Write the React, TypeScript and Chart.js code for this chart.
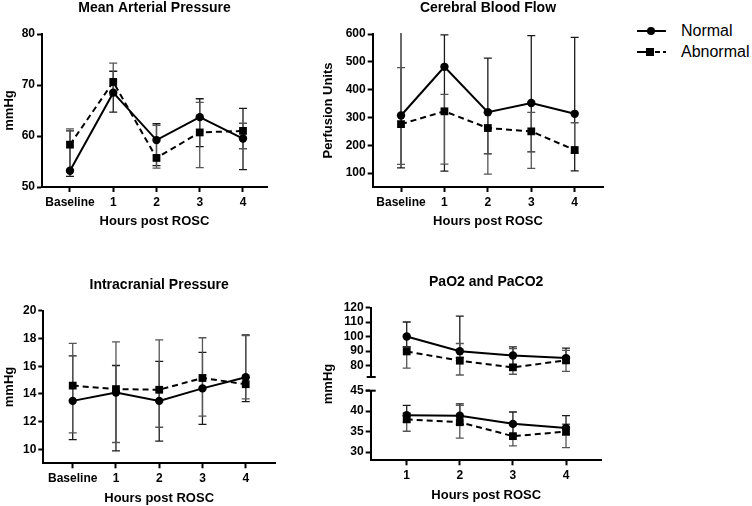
import React, { useEffect, useRef } from 'react';
import { Chart, registerables } from 'chart.js';

Chart.register(...registerables);

const FONT = '"Liberation Sans", Arial, Helvetica, sans-serif';
Chart.defaults.font.family = FONT;
Chart.defaults.color = '#000';

// ---------------- data ----------------
const seriesNames = ['Normal', 'Abnormal'];
const hourLabels = ['Baseline', '1', '2', '3', '4'];
const hourX = [0, 1, 2, 3, 4];
const gasLabels = ['1', '2', '3', '4'];
const gasX = [1, 2, 3, 4];

const mapTicks = [50, 60, 70, 80];
const mapNormal = [53.2, 68.5, 59.2, 63.7, 59.5];
const mapNormalLow = [52.1, 64.7, 54.2, 57.9, 53.4];
const mapNormalHigh = [61.0, 72.7, 62.4, 67.3, 65.4];
const mapAbnormal = [58.3, 70.6, 55.7, 60.7, 61.0];
const mapAbnormalLow = [53.0, 68.0, 53.7, 53.8, 57.5];
const mapAbnormalHigh = [61.4, 74.3, 62.1, 66.6, 62.5];

const cbfTicks = [100, 200, 300, 400, 500, 600];
const cbfNormal = [307, 482, 319, 352, 313];
const cbfNormalLow = [119, 107, 169, 176, 108];
const cbfNormalHigh = [640, 597, 513, 594, 588];
const cbfAbnormal = [276, 322, 262, 250, 183];
const cbfAbnormalLow = [131, 132, 96, 117, 172];
const cbfAbnormalHigh = [479, 383, 318, 318, 281];

const icpTicks = [10, 12, 14, 16, 18, 20];
const icpNormal = [13.5, 14.1, 13.5, 14.4, 15.2];
const icpNormalLow = [10.7, 9.9, 10.6, 11.8, 13.45];
const icpNormalHigh = [16.75, 16.05, 16.35, 17.0, 18.25];
const icpAbnormal = [14.6, 14.35, 14.3, 15.15, 14.7];
const icpAbnormalLow = [11.2, 10.5, 11.6, 12.4, 13.65];
const icpAbnormalHigh = [17.65, 17.75, 17.9, 18.05, 18.2];

const pao2Ticks = [80, 90, 100, 110, 120];
const pao2Normal = [100, 89.9, 86.9, 85.1];
const pao2NormalLow = [93.1, 85.5, 80.5, 82.0];
const pao2NormalHigh = [110.1, 114.2, 92.9, 92.0];
const pao2Abnormal = [89.7, 83.3, 78.7, 83.5];
const pao2AbnormalLow = [78.2, 73.4, 73.9, 75.9];
const pao2AbnormalHigh = [92.5, 95.2, 91.7, 90.5];

const paco2Ticks = [30, 35, 40, 45];
const paco2Normal = [39.0, 38.9, 36.9, 35.9];
const paco2NormalLow = [37.3, 36.8, 34.3, 34.2];
const paco2NormalHigh = [41.4, 41.8, 39.8, 38.9];
const paco2Abnormal = [38.0, 37.3, 33.9, 35.0];
const paco2AbnormalLow = [35.1, 33.4, 31.5, 31.1];
const paco2AbnormalHigh = [39.5, 41.4, 36.5, 36.8];

// ---------------- plugins ----------------
const errorBarPlugin = {
  id: 'errorBars',
  beforeDatasetsDraw(chart: any) {
    const ctx = chart.ctx;
    const xs = chart.scales.x;
    const ys = chart.scales.y;
    const a = chart.chartArea;
    ctx.save();
    ctx.beginPath();
    ctx.rect(a.left - 30, a.top - 1, a.right - a.left + 60, a.bottom - a.top + 2);
    ctx.clip();
    chart.data.datasets.forEach((ds: any) => {
      ctx.strokeStyle = ds.errColor;
      ctx.lineWidth = 1.3;
      ds.data.forEach((pt: any, j: number) => {
        const x = xs.getPixelForValue(pt.x);
        const y1 = ys.getPixelForValue(ds.errLow[j]);
        const y2 = ys.getPixelForValue(ds.errHigh[j]);
        const c = 4;
        ctx.beginPath();
        ctx.moveTo(x, y1);
        ctx.lineTo(x, y2);
        ctx.moveTo(x - c, y1);
        ctx.lineTo(x + c, y1);
        ctx.moveTo(x - c, y2);
        ctx.lineTo(x + c, y2);
        ctx.stroke();
      });
    });
    ctx.restore();
  },
};

const stubPlugin = {
  id: 'breakStub',
  afterDraw(chart: any, _args: any, opts: any) {
    if (!opts || !opts.edge) return;
    const a = chart.chartArea;
    const ctx = chart.ctx;
    const y = opts.edge === 'bottom' ? a.bottom : a.top;
    ctx.save();
    ctx.strokeStyle = '#000';
    ctx.lineWidth = 2;
    ctx.beginPath();
    ctx.moveTo(a.left - (opts.edge === 'bottom' ? 4 : 5), y);
    ctx.lineTo(a.left + 5, y);
    ctx.stroke();
    ctx.restore();
  },
};

// ---------------- panels ----------------
type Box = { L: number; T: number; W: number; H: number };
type Area = { l: number; t: number; r: number; b: number };

interface Panel {
  key: string;
  labels: string[];
  xs: number[];
  xMin: number;
  xMax: number;
  yMin: number;
  yMax: number;
  yTicks: number[];
  normal: number[];
  normalLow: number[];
  normalHigh: number[];
  abnormal: number[];
  abnormalLow: number[];
  abnormalHigh: number[];
  title?: string;
  titlePad?: { top: number; bottom: number };
  yTitle?: string;
  yTitlePad?: number;
  showX: boolean;
  stub?: 'top' | 'bottom';
  box: Box;
  area: Area;
}

const panels: Panel[] = [
  {
    key: 'map',
    labels: hourLabels, xs: hourX, xMin: -0.647, xMax: 4.555,
    yMin: 50, yMax: 80, yTicks: mapTicks,
    normal: mapNormal, normalLow: mapNormalLow, normalHigh: mapNormalHigh,
    abnormal: mapAbnormal, abnormalLow: mapAbnormalLow, abnormalHigh: mapAbnormalHigh,
    title: 'Mean Arterial Pressure', titlePad: { top: 0, bottom: 17.2 },
    yTitle: 'mmHg', yTitlePad: 1.2, showX: true,
    box: { L: 0, T: 0, W: 285, H: 229 },
    area: { l: 42, t: 34, r: 267, b: 187 },
  },
  {
    key: 'cbf',
    labels: hourLabels, xs: hourX, xMin: -0.652, xMax: 4.659,
    yMin: 50, yMax: 600, yTicks: cbfTicks,
    normal: cbfNormal, normalLow: cbfNormalLow, normalHigh: cbfNormalHigh,
    abnormal: cbfAbnormal, abnormalLow: cbfAbnormalLow, abnormalHigh: cbfAbnormalHigh,
    title: 'Cerebral Blood Flow', titlePad: { top: 0, bottom: 17.2 },
    yTitle: 'Perfusion Units', yTitlePad: 2.2, showX: true,
    box: { L: 318, T: 0, W: 300, H: 229 },
    area: { l: 372.7, t: 34, r: 603.3, b: 187 },
  },
  {
    key: 'icp',
    labels: hourLabels, xs: hourX, xMin: -0.68, xMax: 4.677,
    yMin: 9, yMax: 20, yTicks: icpTicks,
    normal: icpNormal, normalLow: icpNormalLow, normalHigh: icpNormalHigh,
    abnormal: icpAbnormal, abnormalLow: icpAbnormalLow, abnormalHigh: icpAbnormalHigh,
    title: 'Intracranial Pressure', titlePad: { top: 7.1, bottom: 16.8 },
    yTitle: 'mmHg', yTitlePad: 1.2, showX: true,
    box: { L: 0, T: 270, W: 290, H: 236 },
    area: { l: 43.3, t: 310.7, r: 275, b: 463.3 },
  },
  {
    key: 'pao2',
    labels: gasLabels, xs: gasX, xMin: 0.322, xMax: 4.672,
    yMin: 72, yMax: 120, yTicks: pao2Ticks,
    normal: pao2Normal, normalLow: pao2NormalLow, normalHigh: pao2NormalHigh,
    abnormal: pao2Abnormal, abnormalLow: pao2AbnormalLow, abnormalHigh: pao2AbnormalHigh,
    title: 'PaO2 and PaCO2', titlePad: { top: 3.6, bottom: 17.3 },
    showX: false, stub: 'bottom',
    box: { L: 340, T: 270, W: 280, H: 117 },
    area: { l: 370.7, t: 307.7, r: 601.7, b: 377 },
  },
  {
    key: 'paco2',
    labels: gasLabels, xs: gasX, xMin: 0.322, xMax: 4.672,
    yMin: 28, yMax: 45, yTicks: paco2Ticks,
    normal: paco2Normal, normalLow: paco2NormalLow, normalHigh: paco2NormalHigh,
    abnormal: paco2Abnormal, abnormalLow: paco2AbnormalLow, abnormalHigh: paco2AbnormalHigh,
    showX: true, stub: 'top',
    box: { L: 340, T: 378, W: 280, H: 125 },
    area: { l: 370.7, t: 390.7, r: 601.7, b: 460.3 },
  },
];

function buildConfig(p: Panel): any {
  const { box, area } = p;
  const yWidth = area.l - box.L;
  const padRight = box.L + box.W - area.r;
  const bottomGap = box.T + box.H - area.b;
  const xHeight = p.showX ? bottomGap : 0;
  const padBottom = p.showX ? 0 : bottomGap;
  const padTop = p.title ? 0 : area.t - box.T;
  const pts = (vals: number[]) => vals.map((v, i) => ({ x: p.xs[i], y: v }));
  const tickFont = { size: 12, weight: 'bold' as const };
  const axisTitleFont = { size: 13, weight: 'bold' as const };

  return {
    type: 'line',
    data: {
      datasets: [
        {
          label: seriesNames[0],
          data: pts(p.normal),
          errLow: p.normalLow,
          errHigh: p.normalHigh,
          errColor: '#1a1a1a',
          borderColor: '#000',
          backgroundColor: '#000',
          borderWidth: 2,
          pointStyle: 'circle',
          pointRadius: 4.2,
          pointBackgroundColor: '#000',
          pointBorderColor: '#000',
          pointBorderWidth: 0,
          tension: 0,
          fill: false,
          clip: false,
        },
        {
          label: seriesNames[1],
          data: pts(p.abnormal),
          errLow: p.abnormalLow,
          errHigh: p.abnormalHigh,
          errColor: '#555',
          borderColor: '#000',
          backgroundColor: '#000',
          borderWidth: 2,
          borderDash: [6, 4],
          pointStyle: 'rect',
          pointRadius: 5.5,
          pointBackgroundColor: '#000',
          pointBorderColor: '#000',
          pointBorderWidth: 0,
          tension: 0,
          fill: false,
          clip: false,
        },
      ],
    },
    options: {
      responsive: false,
      maintainAspectRatio: false,
      animation: false,
      devicePixelRatio: 1,
      events: [],
      layout: { padding: { left: 0, top: padTop, right: padRight, bottom: padBottom } },
      plugins: {
        legend: { display: false },
        tooltip: { enabled: false },
        title: p.title
          ? {
              display: true,
              text: p.title,
              fullSize: false,
              color: '#000',
              font: { size: 14, weight: 'bold' },
              padding: p.titlePad,
            }
          : { display: false },
        breakStub: { edge: p.stub },
      },
      scales: {
        x: {
          type: 'linear',
          display: p.showX,
          min: p.xMin,
          max: p.xMax,
          afterBuildTicks: (s: any) => {
            s.ticks = p.xs.map((v) => ({ value: v }));
          },
          afterFit: (s: any) => {
            s.height = xHeight;
          },
          ticks: {
            autoSkip: false,
            maxRotation: 0,
            minRotation: 0,
            padding: 3,
            color: '#000',
            font: tickFont,
            callback: (_v: any, i: number) => p.labels[i],
          },
          grid: {
            display: true,
            drawOnChartArea: false,
            drawTicks: true,
            tickLength: 5,
            tickWidth: 2,
            tickColor: '#000',
          },
          border: { display: true, color: '#000', width: 2 },
          title: {
            display: true,
            text: 'Hours post ROSC',
            color: '#000',
            font: axisTitleFont,
            padding: { top: 0, bottom: 0 },
          },
        },
        y: {
          type: 'linear',
          min: p.yMin,
          max: p.yMax,
          afterBuildTicks: (s: any) => {
            s.ticks = p.yTicks.map((v) => ({ value: v }));
          },
          afterFit: (s: any) => {
            s.width = yWidth;
          },
          ticks: {
            autoSkip: false,
            padding: 2,
            color: '#000',
            font: tickFont,
            callback: (v: any) => String(v),
          },
          grid: {
            display: true,
            drawOnChartArea: false,
            drawTicks: true,
            tickLength: 5,
            tickWidth: 2,
            tickColor: '#000',
          },
          border: { display: true, color: '#000', width: 2 },
          title: p.yTitle
            ? {
                display: true,
                text: p.yTitle,
                color: '#000',
                font: axisTitleFont,
                padding: { top: p.yTitlePad ?? 0, bottom: 0 },
              }
            : { display: false },
        },
      },
    },
    plugins: [errorBarPlugin, stubPlugin],
  };
}

function PanelChart({ p }: { p: Panel }) {
  const ref = useRef<HTMLCanvasElement>(null);
  useEffect(() => {
    const chart = new Chart(ref.current as HTMLCanvasElement, buildConfig(p));
    return () => chart.destroy();
  }, []);
  return (
    <canvas
      ref={ref}
      width={p.box.W}
      height={p.box.H}
      style={{
        position: 'absolute',
        left: p.box.L,
        top: p.box.T,
        width: p.box.W,
        height: p.box.H,
      }}
    />
  );
}

function LegendRow({ name, top, dashed }: { name: string; top: number; dashed: boolean }) {
  return (
    <div style={{ position: 'absolute', left: 636, top: top - 10, height: 20, width: 116 }}>
      <svg width={32} height={20} style={{ position: 'absolute', left: 0, top: 0 }}>
        {dashed ? (
          <>
            <line x1={1} y1={10} x2={11} y2={10} stroke="#000" strokeWidth={2} />
            <rect x={10} y={6} width={8} height={8} fill="#000" />
            <line x1={19} y1={10} x2={24} y2={10} stroke="#000" strokeWidth={2} />
            <line x1={27} y1={10} x2={30} y2={10} stroke="#000" strokeWidth={2} />
          </>
        ) : (
          <>
            <line x1={1} y1={10} x2={30} y2={10} stroke="#000" strokeWidth={2} />
            <circle cx={15} cy={10} r={4} fill="#000" />
          </>
        )}
      </svg>
      <span
        style={{
          position: 'absolute',
          left: 45,
          top: 0,
          lineHeight: '20px',
          fontSize: 16,
          fontFamily: FONT,
          color: '#000',
          whiteSpace: 'nowrap',
        }}
      >
        {name}
      </span>
    </div>
  );
}

export default function App() {
  return (
    <div
      style={{
        position: 'fixed',
        left: 0,
        top: 0,
        width: 752,
        height: 506,
        overflow: 'hidden',
        background: '#fff',
        fontFamily: FONT,
      }}
    >
      {panels.map((p) => (
        <PanelChart key={p.key} p={p} />
      ))}
      <div
        style={{
          position: 'absolute',
          left: 328,
          top: 384,
          transform: 'translate(-50%, -50%) rotate(-90deg)',
          fontSize: 13,
          fontWeight: 'bold',
          fontFamily: FONT,
          color: '#000',
          whiteSpace: 'nowrap',
          lineHeight: '16px',
        }}
      >
        mmHg
      </div>
      <LegendRow name={seriesNames[0]} top={31} dashed={false} />
      <LegendRow name={seriesNames[1]} top={52} dashed={true} />
    </div>
  );
}
